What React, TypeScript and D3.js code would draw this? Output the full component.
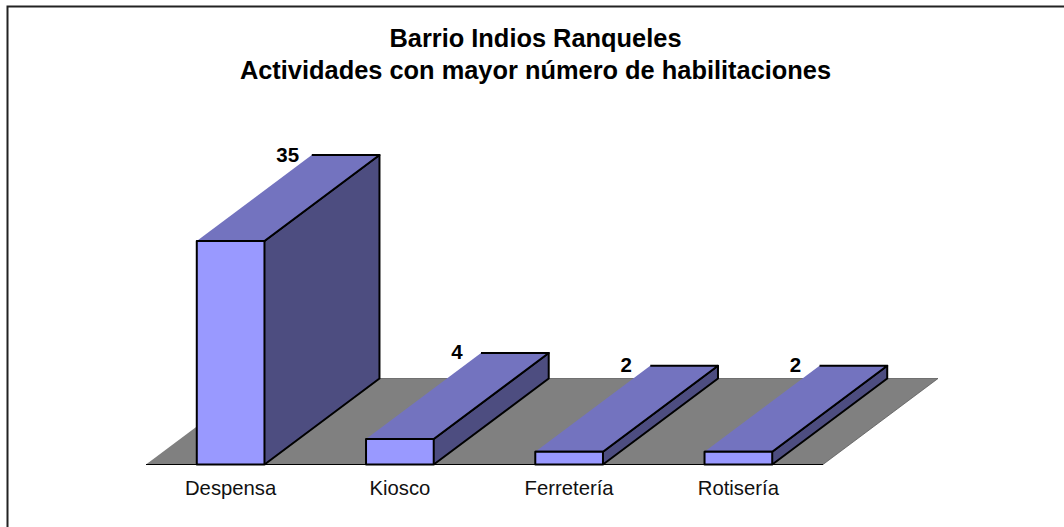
import React, { useEffect, useRef } from 'react';
import * as d3 from 'd3';

const categories = ['Despensa', 'Kiosco', 'Ferretería', 'Rotisería'];
const values = [35, 4, 2, 2];
const titleLines = ['Barrio Indios Ranqueles', 'Actividades con mayor número de habilitaciones'];

const width = 1064;
const height = 527;
const floorLeft = 146;
const floorRight = 823;
const floorY = 464.5;
const depthX = 115;
const depthY = 86;
const font = '"Liberation Sans", Arial, sans-serif';

export default function App() {
  const svgRef = useRef<SVGSVGElement | null>(null);

  useEffect(() => {
    document.body.style.margin = '0';
    const svg = d3.select(svgRef.current);
    svg.selectAll('*').remove();

    const xScale = d3.scaleBand<string>()
      .domain(categories)
      .range([floorLeft, floorRight])
      .paddingInner(0.6)
      .paddingOuter(0.3);

    const yScale = d3.scaleLinear()
      .domain([0, 35])
      .range([floorY, 241]);

    const poly = d3.line();

    // Frame, only top and left are drawn in the original
    svg.append('path')
      .attr('d', `M7.5,${height}V6.5H${width}`)
      .attr('fill', 'none')
      .attr('stroke', '#222')
      .attr('stroke-width', 2);

    // Title
    svg.append('g')
      .selectAll('text')
      .data(titleLines)
      .enter()
      .append('text')
      .attr('x', 535.5)
      .attr('y', (d, i) => 47 + i * 32)
      .attr('text-anchor', 'middle')
      .attr('font-family', font)
      .attr('font-weight', 'bold')
      .attr('font-size', '25.4px')
      .attr('fill', '#000')
      .text(d => d);

    // Floor
    svg.append('path')
      .attr('d', poly([
        [floorLeft, floorY],
        [floorRight, floorY],
        [floorRight + depthX, floorY - depthY],
        [floorLeft + depthX, floorY - depthY]
      ]))
      .attr('fill', '#808080')
      .attr('stroke', '#555')
      .attr('stroke-width', 0.75);

    svg.append('line')
      .attr('x1', floorLeft)
      .attr('x2', floorRight)
      .attr('y1', floorY)
      .attr('y2', floorY)
      .attr('stroke', '#000')
      .attr('stroke-width', 1);

    // Bars
    const bars = svg.selectAll('.bar')
      .data(categories)
      .enter()
      .append('g')
      .attr('class', 'bar')
      .attr('stroke', '#000')
      .attr('stroke-width', 2)
      .attr('stroke-linejoin', 'round');

    const left = (d: string) => xScale(d) as number;
    const right = (d: string) => left(d) + xScale.bandwidth();
    const top = (i: number) => yScale(values[i]);

    // side face
    bars.append('path')
      .attr('fill', '#4d4d80')
      .attr('d', (d, i) => poly([
        [right(d), floorY],
        [right(d) + depthX, floorY - depthY],
        [right(d) + depthX, top(i) - depthY],
        [right(d), top(i)]
      ]));

    // top face
    bars.append('path')
      .attr('fill', '#7373bf')
      .attr('d', (d, i) => poly([
        [left(d), top(i)],
        [right(d), top(i)],
        [right(d) + depthX, top(i) - depthY],
        [left(d) + depthX, top(i) - depthY]
      ]));

    // front face
    bars.append('rect')
      .attr('fill', '#9999ff')
      .attr('x', d => left(d))
      .attr('y', (d, i) => top(i))
      .attr('width', xScale.bandwidth())
      .attr('height', (d, i) => floorY - top(i));

    // Value labels
    svg.selectAll('.value')
      .data(categories)
      .enter()
      .append('text')
      .attr('class', 'value')
      .attr('x', d => left(d) + depthX - 24)
      .attr('y', (d, i) => top(i) - depthY + 6.5)
      .attr('text-anchor', 'middle')
      .attr('font-family', font)
      .attr('font-weight', 'bold')
      .attr('font-size', '20.5px')
      .attr('fill', '#000')
      .text((d, i) => values[i]);

    // Category labels
    svg.selectAll('.category')
      .data(categories)
      .enter()
      .append('text')
      .attr('class', 'category')
      .attr('x', d => left(d) + xScale.bandwidth() / 2)
      .attr('y', 495)
      .attr('text-anchor', 'middle')
      .attr('font-family', font)
      .attr('font-size', '20.3px')
      .attr('fill', '#111')
      .text(d => d);
  }, []);

  return (
    <svg ref={svgRef} width={width} height={height} style={{ display: 'block', background: '#fff' }} />
  );
}
